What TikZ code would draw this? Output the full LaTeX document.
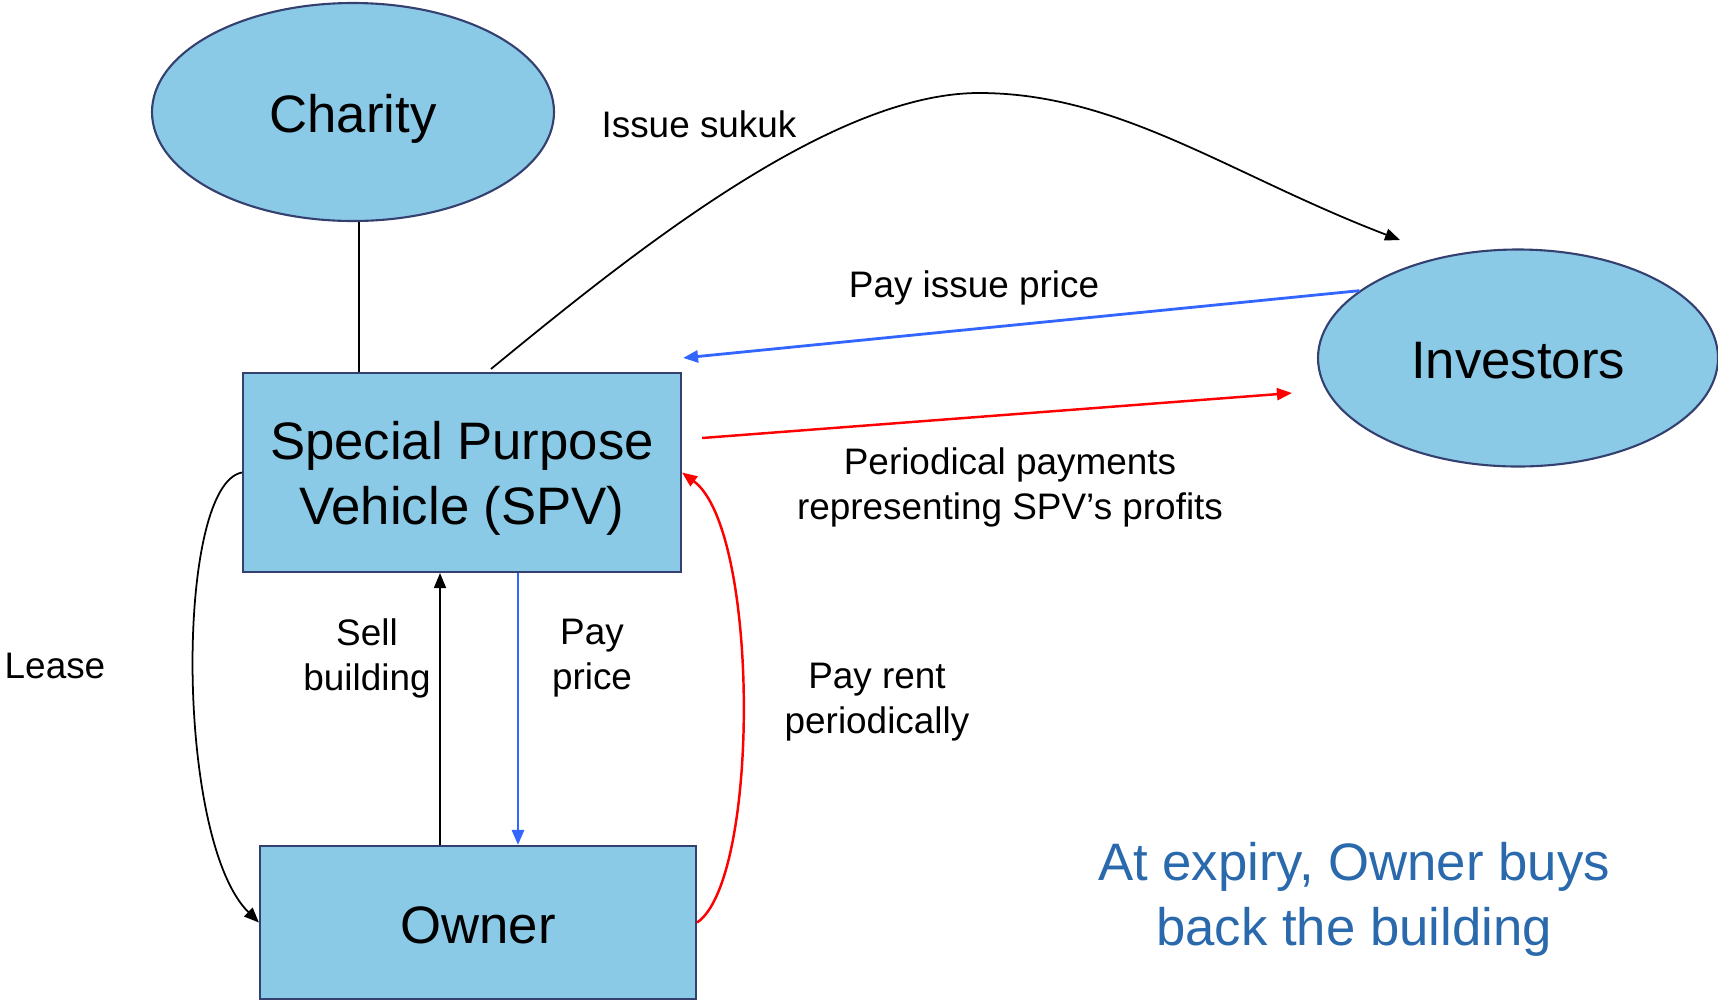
\documentclass[tikz,border=0pt]{standalone}
\usepackage{fontspec}
\setmainfont{Liberation Sans}
\usepackage{xcolor}
\usepackage{tikz}
\definecolor{partyblue}{RGB}{139, 202, 230}
\definecolor{partyedge}{RGB}{52, 64, 112}
\definecolor{payblue}{RGB}{51, 102, 255}
\definecolor{notecolor}{RGB}{41, 105, 172}
\usetikzlibrary{shapes.geometric, arrows.meta, positioning, calc}

\begin{document}
\begin{tikzpicture}[
    partybox/.style={rectangle, draw=partyedge, fill=partyblue, line width=0.6pt, inner sep=0pt, text depth=0pt, align=center, font=\fontsize{15}{18.5}\selectfont},
    partyell/.style={ellipse, draw=partyedge, fill=partyblue, line width=0.6pt, inner sep=0pt, text depth=0pt, font=\fontsize{15}{18.5}\selectfont},
    oneline/.style={text height=11.7pt},
    flowlabel/.style={align=center, font=\fontsize{10.5}{12.8}\selectfont},
    arrow/.style={-{Triangle[length=1.5mm, width=1.2mm]}, line width=0.5pt, black},
    bluearrow/.style={-{Triangle[length=1.5mm, width=1.2mm]}, line width=0.8pt, payblue},
    redarrow/.style={-{Triangle[length=1.5mm, width=1.2mm]}, line width=0.7pt, red}
]
    \useasboundingbox (0,0) rectangle (17.18,-10.01);

    \node[partyell, oneline, minimum width=4.02cm, minimum height=2.18cm] (charity) at (3.53,-1.12) {Charity};
    \node[partybox, minimum width=4.38cm, minimum height=1.99cm] (spv) at (4.62,-4.725) {Special Purpose\\Vehicle (SPV)};
    \node[partybox, oneline, minimum width=4.36cm, minimum height=1.53cm] (owner) at (4.78,-9.225) {Owner};
    \node[partyell, oneline, minimum width=4.00cm, minimum height=2.17cm] (investors) at (15.18,-3.58) {Investors};

    \coordinate (sukuktop) at (9.79,-0.93);
    \coordinate (sukukend) at (14.00,-2.40);

    \draw[line width=0.5pt] ([xshift=0.06cm]charity.south) -- ([xshift=0.06cm]charity.south |- spv.north);

    \draw[arrow] ([xshift=-0.38cm]owner.north) -- ([xshift=-0.38cm]owner.north |- spv.south);
    \draw[bluearrow] ([xshift=0.56cm]spv.south) -- ([xshift=0.56cm]spv.south |- owner.north);

    \draw[arrow] (spv.west) .. controls (1.75,-4.85) and (1.75,-8.4) .. (owner.west);
    \draw[redarrow] (owner.east) .. controls (7.6,-8.8) and (7.6,-5.3) .. (spv.east);

    \draw[arrow] ([shift={(0.29,0.03)}]spv.north) .. controls (6.3,-2.55) and (8.3,-0.93) .. (sukuktop) .. controls (11.2,-0.93) and (12.3,-1.75) .. (sukukend);
    \draw[bluearrow] (investors.157) -- ([shift={(0.01,0.14)}]spv.north east);
    \draw[redarrow] ([shift={(0.2,0.345)}]spv.east) -- ([shift={(-0.25,-0.35)}]investors.west);

    \node[flowlabel] (issue) at (6.99,-1.24) {Issue sukuk};
    \node[flowlabel] (payissue) at (9.74,-2.875) {Pay issue price};
    \node[flowlabel] (periodical) at (10.10,-4.875) {Periodical payments\\representing SPV’s profits};
    \node[flowlabel] (lease) at (0.55,-6.655) {Lease};
    \node[flowlabel] (sell) at (3.67,-6.585) {Sell\\building};
    \node[flowlabel] (payprice) at (5.92,-6.585) {Pay\\price};
    \node[flowlabel] (payrent) at (8.77,-7.025) {Pay rent\\periodically};

    \node[align=center, text=notecolor, font=\fontsize{15}{18.5}\selectfont] (expiry) at (13.54,-8.99) {At expiry, Owner buys\\back the building};
\end{tikzpicture}
\end{document}
